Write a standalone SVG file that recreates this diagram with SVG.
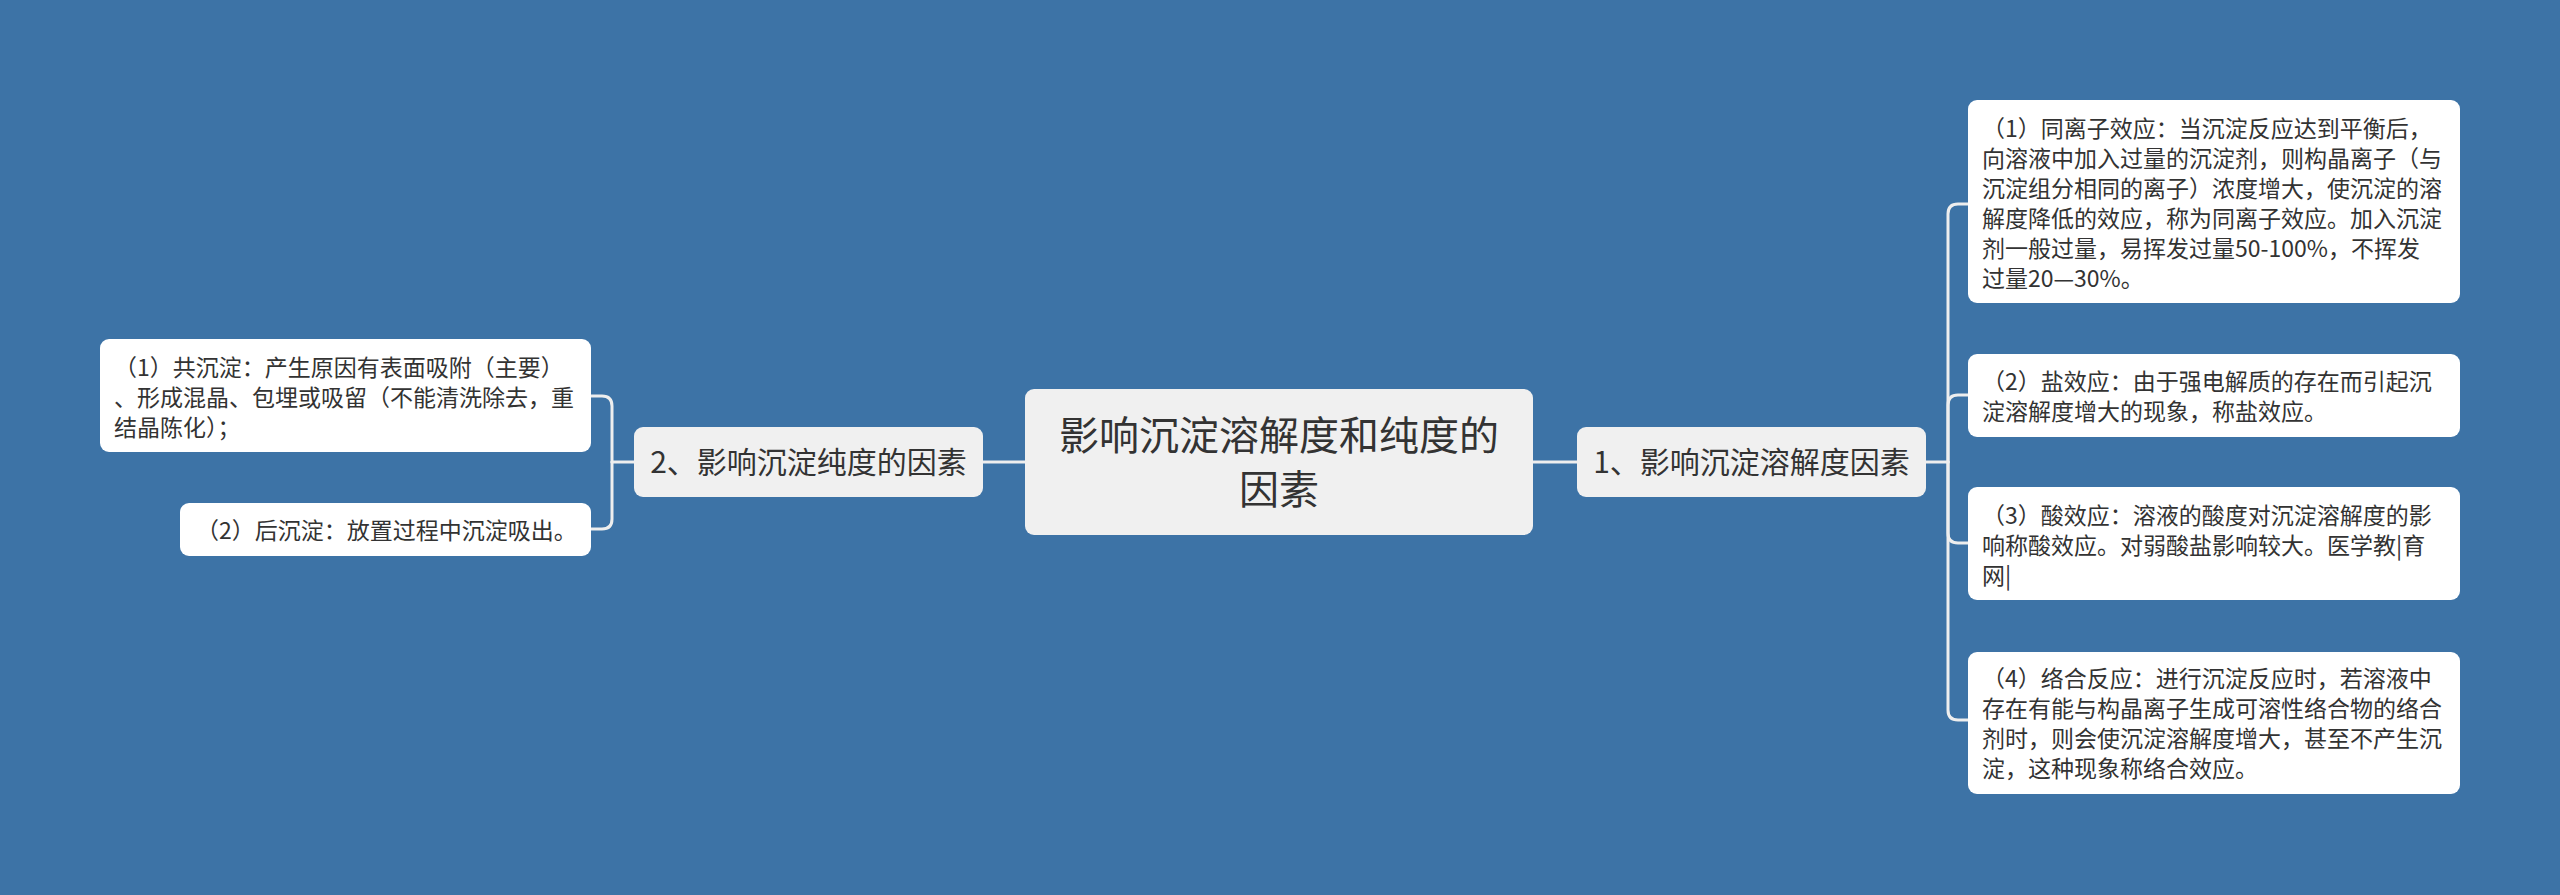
<svg xmlns="http://www.w3.org/2000/svg" width="2560" height="895" viewBox="0 0 2560 895">
<style>
.bg{fill:#3d73a6}
.root{fill:#f0f0f0}
.mid{fill:#f0f0f0}
.leaf{fill:#ffffff}
.t{font-family:"Microsoft YaHei","Noto Sans CJK SC","Noto Sans",sans-serif;fill:#333333}
.t40{font-size:40px;text-anchor:middle}
.t30{font-size:30px;text-anchor:middle}
.t23{font-size:23px}
.conn{fill:none;stroke:#eeeeee;stroke-width:3;stroke-linecap:round}
</style>
<rect class="bg" x="0" y="0" width="2560" height="895"/>
<g id="connectors">
<path class="conn" d="M983 462 H1025"/>
<path class="conn" d="M1533 462 H1577"/>
<path class="conn" d="M1926 462 H1948"/>
<path class="conn" d="M1948 462 V214 Q1948 204 1958 204 H1968"/>
<path class="conn" d="M1948 462 V405 Q1948 395 1958 395 H1968"/>
<path class="conn" d="M1948 462 V533 Q1948 543 1958 543 H1968"/>
<path class="conn" d="M1948 462 V710 Q1948 720 1958 720 H1968"/>
<path class="conn" d="M634 462 H612"/>
<path class="conn" d="M612 462 V406 Q612 396 602 396 H591"/>
<path class="conn" d="M612 462 V519 Q612 529 602 529 H591"/>
</g>
<g id="root">
<rect class="root" x="1025" y="389" width="508" height="146" rx="9"/>
<text class="t t40" x="1279" y="450">影响沉淀溶解度和纯度的</text>
<text class="t t40" x="1279" y="504">因素</text>
</g>
<g id="n1">
<rect class="mid" x="1577" y="427" width="349" height="70" rx="9"/>
<text class="t t30" x="1751.5" y="473">1、影响沉淀溶解度因素</text>
</g>
<g id="n2">
<rect class="mid" x="634" y="427" width="349" height="70" rx="9"/>
<text class="t t30" x="808.5" y="473">2、影响沉淀纯度的因素</text>
</g>
<g id="n1-1">
<rect class="leaf" x="1968" y="100" width="492" height="203" rx="9"/>
<text class="t t23" x="1982" y="137">（1）同离子效应：当沉淀反应达到平衡后，</text>
<text class="t t23" x="1982" y="167">向溶液中加入过量的沉淀剂，则构晶离子（与</text>
<text class="t t23" x="1982" y="197">沉淀组分相同的离子）浓度增大，使沉淀的溶</text>
<text class="t t23" x="1982" y="227">解度降低的效应，称为同离子效应。加入沉淀</text>
<text class="t t23" x="1982" y="257">剂一般过量，易挥发过量50-100%，不挥发</text>
<text class="t t23" x="1982" y="287">过量20—30%。</text>
</g>
<g id="n1-2">
<rect class="leaf" x="1968" y="354" width="492" height="83" rx="9"/>
<text class="t t23" x="1982" y="390">（2）盐效应：由于强电解质的存在而引起沉</text>
<text class="t t23" x="1982" y="420">淀溶解度增大的现象，称盐效应。</text>
</g>
<g id="n1-3">
<rect class="leaf" x="1968" y="487" width="492" height="113" rx="9"/>
<text class="t t23" x="1982" y="524">（3）酸效应：溶液的酸度对沉淀溶解度的影</text>
<text class="t t23" x="1982" y="554">响称酸效应。对弱酸盐影响较大。医学教|育</text>
<text class="t t23" x="1982" y="584">网|</text>
</g>
<g id="n1-4">
<rect class="leaf" x="1968" y="652" width="492" height="142" rx="9"/>
<text class="t t23" x="1982" y="687">（4）络合反应：进行沉淀反应时，若溶液中</text>
<text class="t t23" x="1982" y="717">存在有能与构晶离子生成可溶性络合物的络合</text>
<text class="t t23" x="1982" y="747">剂时，则会使沉淀溶解度增大，甚至不产生沉</text>
<text class="t t23" x="1982" y="777">淀，这种现象称络合效应。</text>
</g>
<g id="n2-1">
<rect class="leaf" x="100" y="339" width="491" height="113" rx="9"/>
<text class="t t23" x="114" y="376">（1）共沉淀：产生原因有表面吸附（主要）</text>
<text class="t t23" x="114" y="406">、形成混晶、包埋或吸留（不能清洗除去，重</text>
<text class="t t23" x="114" y="436">结晶陈化）；</text>
</g>
<g id="n2-2">
<rect class="leaf" x="180" y="503" width="411" height="53" rx="9"/>
<text class="t t23" x="196" y="539">（2）后沉淀：放置过程中沉淀吸出。</text>
</g>
</svg>
